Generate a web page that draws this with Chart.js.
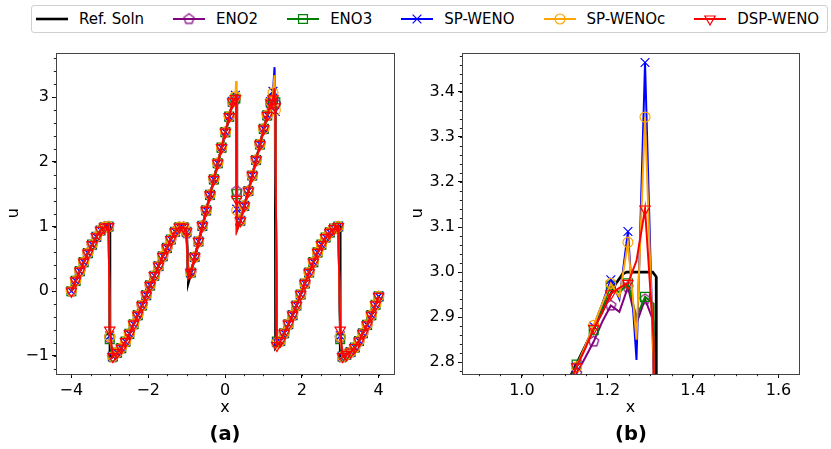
<!DOCTYPE html>
<html lang="en">
<head>
<meta charset="UTF-8">
<title>Shock comparison</title>
<script src="https://cdn.jsdelivr.net/npm/chart.js"></script>
<style>
  body { margin: 0; background: #fff; font-family: "DejaVu Sans", sans-serif; }
  #page { position: relative; width: 831px; height: 449px; overflow: hidden; }
  .panel { position: absolute; top: 40px; height: 409px; }
  #leftBox { left: 0; width: 410px; }
  #rightBox { left: 400px; width: 431px; }
  .tag { position: absolute; top: 433px; font-weight: bold; font-size: 19.5px; transform: translate(-50%, -50%); }
  #legend {
    position: absolute; left: 31px; top: 5px; width: 797px; height: 28px;
    border: 1px solid #d0d0d0; border-radius: 3px; box-sizing: border-box;
    display: flex; align-items: center; padding-left: 4px; gap: 29px;
  }
  .item { display: flex; align-items: center; font-size: 15px; color: #000; }
  .item canvas { margin-right: 11px; }
</style>
</head>
<body>
<div id="page">
  <div id="legend"></div>
  <div class="panel" id="leftBox"><canvas id="leftChart" width="410" height="409"></canvas></div>
  <div class="panel" id="rightBox"><canvas id="rightChart" width="431" height="409"></canvas></div>
  <div class="tag" style="left:225px">(a)</div>
  <div class="tag" style="left:631px">(b)</div>
</div>

<script>
// ---- data: full domain (panel a) ----
const refLx = [-4.00,-3.89,-3.78,-3.68,-3.57,-3.46,-3.35,-3.24,-3.14,-3.03,-3.00,-2.995,-2.92,-2.81,-2.70,-2.59,-2.49,-2.38,-2.27,-2.16,
  -2.05,-1.95,-1.84,-1.73,-1.62,-1.51,-1.41,-1.30,-1.19,-1.08,-1.00,-0.96,-0.955,-0.89,-0.79,-0.69,-0.59,-0.49,-0.39,-0.29,
  -0.19,-0.09,0.01,0.11,0.20,0.24,0.305,0.31,0.40,0.50,0.61,0.71,0.81,0.91,1.01,1.10,1.19,1.24,1.306,1.314,
  1.316,1.35,1.44,1.54,1.65,1.76,1.86,1.97,2.08,2.19,2.30,2.41,2.51,2.62,2.73,2.84,2.95,2.995,3.00,3.06,
  3.16,3.27,3.38,3.49,3.59,3.70,3.81,3.92,4.00];
const refLy = [0.00,0.16,0.31,0.45,0.59,0.72,0.84,0.94,0.99,1.00,1.00,-1.00,-1.00,-0.95,-0.88,-0.78,-0.66,-0.51,-0.37,-0.22,
  -0.06,0.09,0.24,0.39,0.54,0.67,0.80,0.92,0.99,0.99,0.93,0.30,0.13,0.27,0.51,0.75,0.99,1.24,1.48,1.72,
  1.97,2.21,2.45,2.69,2.92,3.00,3.00,0.96,1.09,1.32,1.55,1.79,2.03,2.27,2.51,2.72,2.92,3.00,3.00,2.99,
  -0.87,-0.84,-0.77,-0.65,-0.51,-0.37,-0.22,-0.05,0.12,0.29,0.45,0.60,0.72,0.83,0.91,0.97,1.00,1.00,-1.00,-1.00,
  -0.98,-0.94,-0.87,-0.77,-0.65,-0.52,-0.37,-0.21,-0.08];

const xL = [-4.00,-3.89,-3.78,-3.68,-3.57,-3.46,-3.35,-3.24,-3.14,-3.03,-3.00,-2.92,-2.81,-2.70,-2.59,-2.49,-2.38,-2.27,-2.16,-2.05,
  -1.95,-1.84,-1.73,-1.62,-1.51,-1.41,-1.30,-1.19,-1.08,-1.00,-0.96,-0.89,-0.79,-0.69,-0.59,-0.49,-0.39,-0.29,-0.19,-0.09,
  0.01,0.11,0.20,0.27,0.29,0.305,0.315,0.40,0.50,0.61,0.71,0.81,0.91,1.01,1.10,1.19,1.25,1.29,1.31,1.35,
  1.44,1.54,1.65,1.76,1.86,1.97,2.08,2.19,2.30,2.41,2.51,2.62,2.73,2.84,2.95,3.00,3.06,3.16,3.27,3.38,
  3.49,3.59,3.70,3.81,3.92,4.00];
// sample points that carry no marker in panel (a)
const unmarkedL = [-0.96, 0.29, 0.315, 1.29];

const eno2L = [0.00,0.16,0.31,0.45,0.59,0.72,0.84,0.94,0.99,1.00,-0.72,-1.02,-0.95,-0.88,-0.78,-0.66,-0.51,-0.37,-0.22,-0.06,
  0.09,0.24,0.39,0.54,0.67,0.80,0.92,0.99,0.99,0.90,0.22,0.29,0.53,0.77,1.01,1.25,1.49,1.73,1.98,2.22,
  2.46,2.70,2.93,2.97,2.99,1.55,0.98,1.09,1.32,1.55,1.79,2.03,2.27,2.51,2.72,2.89,2.967,2.94,2.90,-0.80,
  -0.77,-0.65,-0.51,-0.37,-0.22,-0.05,0.12,0.29,0.45,0.60,0.72,0.83,0.91,0.97,1.00,-0.72,-1.02,-0.98,-0.94,-0.87,
  -0.77,-0.65,-0.52,-0.37,-0.21,-0.08];
const eno3L = [0.00,0.16,0.31,0.45,0.59,0.72,0.84,0.94,0.99,1.00,-0.74,-1.01,-0.95,-0.88,-0.78,-0.66,-0.51,-0.37,-0.22,-0.06,
  0.09,0.24,0.39,0.54,0.67,0.80,0.92,0.99,0.99,0.92,0.22,0.29,0.53,0.77,1.01,1.25,1.49,1.73,1.98,2.22,
  2.46,2.70,2.93,2.98,3.00,1.50,0.98,1.09,1.32,1.55,1.79,2.03,2.27,2.51,2.72,2.92,2.975,2.945,2.92,-0.78,
  -0.77,-0.65,-0.51,-0.37,-0.22,-0.05,0.12,0.29,0.45,0.60,0.72,0.83,0.91,0.97,1.00,-0.74,-1.01,-0.98,-0.94,-0.87,
  -0.77,-0.65,-0.52,-0.37,-0.21,-0.08];
const spwL = [0.00,0.16,0.31,0.45,0.59,0.72,0.84,0.94,0.99,1.00,-0.69,-1.01,-0.95,-0.88,-0.78,-0.66,-0.51,-0.37,-0.22,-0.06,
  0.09,0.24,0.39,0.54,0.67,0.80,0.92,0.99,0.99,0.92,0.22,0.29,0.53,0.77,1.01,1.25,1.49,1.73,1.98,2.22,
  2.46,2.70,2.93,3.03,3.10,1.27,0.97,1.09,1.32,1.55,1.79,2.03,2.27,2.51,2.72,2.93,3.09,3.465,2.78,-0.79,
  -0.77,-0.65,-0.51,-0.37,-0.22,-0.05,0.12,0.29,0.45,0.60,0.72,0.83,0.91,0.97,1.00,-0.69,-1.01,-0.98,-0.94,-0.87,
  -0.77,-0.65,-0.52,-0.37,-0.21,-0.08];
const spwcL = [0.00,0.16,0.31,0.45,0.59,0.72,0.84,0.94,0.99,1.00,-0.70,-1.01,-0.95,-0.88,-0.78,-0.66,-0.51,-0.37,-0.22,-0.06,
  0.09,0.24,0.39,0.54,0.67,0.80,0.92,0.99,0.99,0.92,0.22,0.29,0.53,0.77,1.01,1.25,1.49,1.73,1.98,2.22,
  2.46,2.70,2.93,3.01,3.25,1.25,0.96,1.09,1.32,1.55,1.79,2.03,2.27,2.51,2.72,2.93,3.066,3.344,2.80,-0.80,
  -0.77,-0.65,-0.51,-0.37,-0.22,-0.05,0.12,0.29,0.45,0.60,0.72,0.83,0.91,0.97,1.00,-0.70,-1.01,-0.98,-0.94,-0.87,
  -0.77,-0.65,-0.52,-0.37,-0.21,-0.08];
const dspL = [0.00,0.16,0.31,0.45,0.59,0.72,0.84,0.94,0.99,1.00,-0.60,-1.01,-0.95,-0.88,-0.78,-0.66,-0.51,-0.37,-0.22,-0.06,
  0.09,0.24,0.39,0.54,0.67,0.80,0.92,0.99,0.99,0.92,0.20,0.29,0.53,0.77,1.01,1.25,1.49,1.73,1.98,2.22,
  2.46,2.70,2.93,2.98,3.05,1.42,0.94,1.09,1.32,1.55,1.79,2.03,2.27,2.51,2.72,2.91,2.975,3.14,2.85,-0.84,
  -0.77,-0.65,-0.51,-0.37,-0.22,-0.05,0.12,0.29,0.45,0.60,0.72,0.83,0.91,0.97,1.00,-0.60,-1.01,-0.98,-0.94,-0.87,
  -0.77,-0.65,-0.52,-0.37,-0.21,-0.08];

// ---- data: zoom near the right-hand shock (panel b) ----
const refZx = [1.05, 1.117, 1.22, 1.235, 1.245, 1.306, 1.314, 1.3145];
const refZy = [2.65, 2.776, 2.975, 2.995, 3.00, 3.00, 2.99, -0.85];
const xZ = [1.088, 1.108, 1.128, 1.148, 1.168, 1.188, 1.208, 1.228, 1.248, 1.268, 1.288, 1.308, 1.328];
const eno2Z = [2.68, 2.73, 2.775, 2.81, 2.846, 2.89, 2.926, 2.912, 2.967, 2.886, 2.94, 2.89, -0.80];
const eno3Z = [2.70, 2.745, 2.795, 2.835, 2.871, 2.92, 2.97, 2.955, 2.975, 2.90, 2.945, 2.93, -0.78];
const spwZ = [2.70, 2.745, 2.79, 2.835, 2.88, 2.93, 2.983, 2.94, 3.09, 2.805, 3.465, 2.78, -0.79];
const spwcZ = [2.70, 2.745, 2.79, 2.835, 2.882, 2.93, 2.975, 2.945, 3.066, 2.85, 3.344, 2.80, -0.80];
const dspZ = [2.70, 2.745, 2.79, 2.83, 2.875, 2.91, 2.952, 2.965, 2.975, 3.025, 3.14, 2.85, -0.84];

const seriesNames = ['Ref. Soln', 'ENO2', 'ENO3', 'SP-WENO', 'SP-WENOc', 'DSP-WENO'];
const xTicksL = [-4, -2, 0, 2, 4];
const yTicksL = [-1, 0, 1, 2, 3];
const xTicksR = [1.0, 1.2, 1.4, 1.6];
const yTicksR = [2.8, 2.9, 3.0, 3.1, 3.2, 3.3, 3.4];

// ---- styling ----
const colors = ['#000000', '#800080', '#008000', '#0000ff', '#ffa500', '#ff0000'];
const FONT = 'DejaVu Sans';

function pentagon(color, r) {
  const c = document.createElement('canvas');
  const s = Math.ceil(r * 2 + 4);
  c.width = s; c.height = s;
  const g = c.getContext('2d');
  g.strokeStyle = color; g.lineWidth = 1.2;
  g.beginPath();
  for (let k = 0; k < 5; k++) {
    const a = -Math.PI / 2 + k * 2 * Math.PI / 5;
    const px = s / 2 + r * Math.cos(a), py = s / 2 + r * Math.sin(a);
    if (k) g.lineTo(px, py); else g.moveTo(px, py);
  }
  g.closePath(); g.stroke();
  return c;
}

const markers = [
  null,
  { style: pentagon(colors[1], 5.3), r: 5.3, rot: 0 },
  { style: 'rect', r: 6.3, rot: 0 },
  { style: 'crossRot', r: 6.2, rot: 0 },
  { style: 'circle', r: 5, rot: 0 },
  { style: 'triangle', r: 6, rot: 180 }
];

function schemeSet(i, xs, ys, radiusFn) {
  const m = markers[i];
  return {
    label: seriesNames[i],
    data: xs.map((x, k) => ({ x: x, y: ys[k] })),
    borderColor: colors[i],
    borderWidth: 2,
    backgroundColor: 'rgba(0,0,0,0)',
    pointStyle: m.style,
    pointRotation: m.rot,
    pointRadius: ctx => radiusFn(ctx) ? m.r : 0,
    pointBorderColor: colors[i],
    pointBorderWidth: 1.2,
    pointBackgroundColor: 'rgba(0,0,0,0)',
    tension: 0,
    spanGaps: true,
    order: 5 - i
  };
}

function refSet(xs, ys) {
  return {
    label: seriesNames[0],
    data: xs.map((x, k) => ({ x: x, y: ys[k] })),
    borderColor: colors[0],
    borderWidth: 2.6,
    pointRadius: 0,
    tension: 0,
    order: 5
  };
}

function scale(pos, min, max, ticks, size, title, titlePad, fmt) {
  return {
    type: 'linear', position: pos, min: min, max: max,
    afterBuildTicks: s => { s.ticks = ticks.map(v => ({ value: v })); },
    afterFit: s => { if (pos === 'bottom') s.height = size; else s.width = size; },
    grid: { drawOnChartArea: false, drawTicks: true, tickLength: 4, tickWidth: 1, tickColor: '#000' },
    border: { display: false },
    ticks: { color: '#000', font: { family: FONT, size: 16 }, padding: 3, maxRotation: 0, autoSkip: false,
             callback: v => fmt(v) },
    title: { display: true, text: title, color: '#000', font: { family: FONT, size: 16 }, padding: titlePad }
  };
}

// frame on all four sides plus small minor ticks
const framePlugin = {
  id: 'frame',
  afterDatasetsDraw(chart, args, opts) {
    const { ctx, chartArea: a, scales } = chart;
    ctx.save();
    ctx.strokeStyle = '#444';
    ctx.lineWidth = 1;
    ctx.strokeRect(Math.round(a.left) + 0.5, Math.round(a.top) + 0.5,
                   Math.round(a.right - a.left), Math.round(a.bottom - a.top));
    ctx.beginPath();
    ctx.strokeStyle = '#222';
    const sx = scales.x, sy = scales.y;
    for (let v = Math.ceil(sx.min / opts.mx) * opts.mx; v <= sx.max + 1e-9; v += opts.mx) {
      const p = Math.round(sx.getPixelForValue(v)) + 0.5;
      ctx.moveTo(p, a.bottom); ctx.lineTo(p, a.bottom + 2.2);
    }
    for (let v = Math.ceil(sy.min / opts.my) * opts.my; v <= sy.max + 1e-9; v += opts.my) {
      const p = Math.round(sy.getPixelForValue(v)) + 0.5;
      ctx.moveTo(a.left, p); ctx.lineTo(a.left - 2.2, p);
    }
    ctx.stroke();
    ctx.restore();
  }
};

const minusFmt = v => String(v).replace('-', '\u2212');
const oneDec = v => v.toFixed(1);

function baseOptions(pad, xs, ys, minor) {
  return {
    responsive: false,
    animation: false,
    events: [],
    layout: { padding: pad },
    plugins: { legend: { display: false }, tooltip: { enabled: false }, frame: minor },
    scales: { x: xs, y: ys }
  };
}

// panel (a): every sample except the listed ones gets a marker
const markLeft = ctx => !unmarkedL.includes(xL[ctx.dataIndex]);
new Chart(document.getElementById('leftChart'), {
  type: 'line',
  data: {
    datasets: [
      refSet(refLx, refLy),
      schemeSet(1, xL, eno2L, markLeft),
      schemeSet(2, xL, eno3L, markLeft),
      schemeSet(3, xL, spwL, markLeft),
      schemeSet(4, xL, spwcL, markLeft),
      schemeSet(5, xL, dspL, markLeft)
    ]
  },
  options: baseOptions({ top: 11, right: 16, left: 0, bottom: 0 },
    scale('bottom', -4.4, 4.4, xTicksL, 75, 'x', { top: 0, bottom: 32 }, minusFmt),
    scale('left', -1.28, 3.69, yTicksL, 56, 'u', { top: 4.7, bottom: 0 }, minusFmt),
    { mx: 0.5, my: 0.2 }),
  plugins: [framePlugin]
});

// panel (b): markers on every second sample
const markRight = ctx => ctx.dataIndex % 2 === 0;
new Chart(document.getElementById('rightChart'), {
  type: 'line',
  data: {
    datasets: [
      refSet(refZx, refZy),
      schemeSet(1, xZ, eno2Z, markRight),
      schemeSet(2, xZ, eno3Z, markRight),
      schemeSet(3, xZ, spwZ, markRight),
      schemeSet(4, xZ, spwcZ, markRight),
      schemeSet(5, xZ, dspZ, markRight)
    ]
  },
  options: baseOptions({ top: 11, right: 32, left: 0, bottom: 0 },
    scale('bottom', 0.86, 1.648, xTicksR, 75, 'x', { top: 0, bottom: 32 }, oneDec),
    scale('left', 2.774, 3.487, yTicksR, 62, 'u', { top: 8.7, bottom: 0 }, oneDec),
    { mx: 0.05, my: 0.02 }),
  plugins: [framePlugin]
});

// legend across both panels
const legend = document.getElementById('legend');
seriesNames.forEach((name, i) => {
  const item = document.createElement('div');
  item.className = 'item';
  const c = document.createElement('canvas');
  c.width = 32; c.height = 16;
  const g = c.getContext('2d');
  g.strokeStyle = colors[i];
  g.lineWidth = i === 0 ? 2.6 : 2;
  g.beginPath(); g.moveTo(0, 8); g.lineTo(32, 8); g.stroke();
  const m = markers[i];
  if (m) {
    g.lineWidth = 1.2;
    g.fillStyle = 'rgba(0,0,0,0)';
    if (typeof m.style === 'object') {
      g.drawImage(m.style, 16 - m.style.width / 2, 8 - m.style.height / 2);
    } else {
      Chart.helpers.drawPoint(g, { pointStyle: m.style, rotation: m.rot, radius: m.r, borderWidth: 1.2 }, 16, 8);
    }
  }
  item.appendChild(c);
  const t = document.createElement('span');
  t.textContent = name;
  item.appendChild(t);
  legend.appendChild(item);
});
</script>
</body>
</html>
